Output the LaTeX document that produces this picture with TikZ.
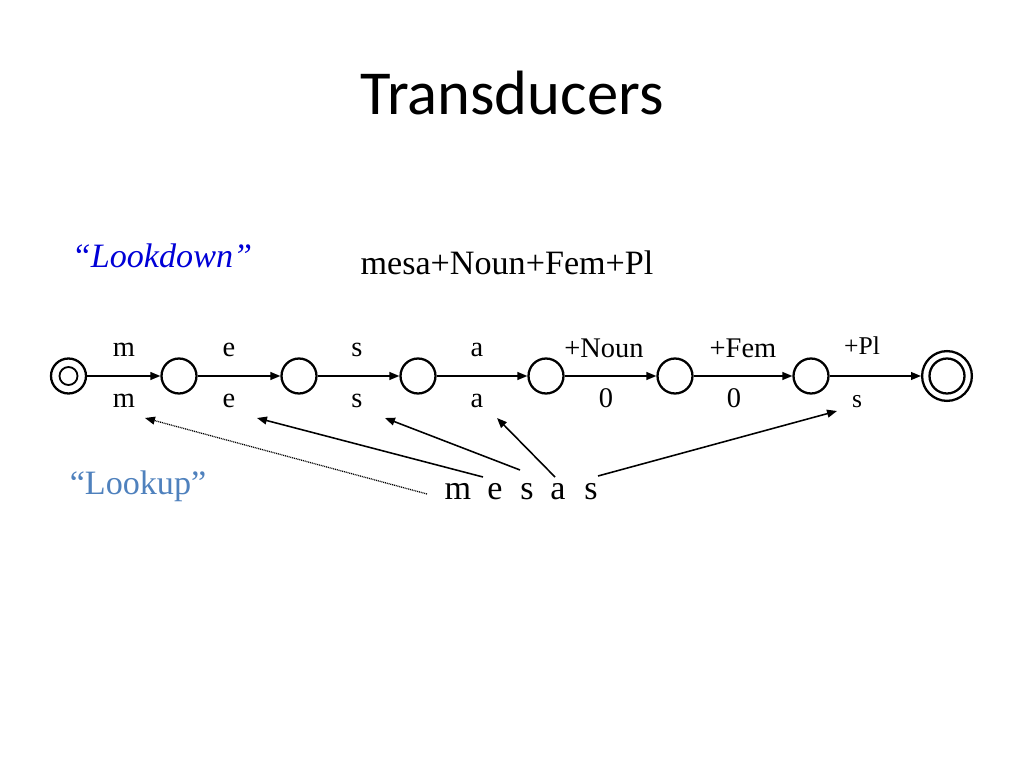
\documentclass[tikz,border=0pt]{standalone}
\usepackage{fontspec}
\setmainfont{Liberation Serif}
\newfontfamily\titlefont{Carlito}
\usetikzlibrary{arrows.meta}
\definecolor{downblue}{RGB}{0,0,215}
\definecolor{upblue}{RGB}{79,129,189}
\begin{document}
\begin{tikzpicture}[x=0.703125pt,y=-0.703125pt,
  state/.style={circle,draw,line width=1.6pt,minimum size=24.6pt,inner sep=0pt},
  bigstate/.style={circle,draw,line width=1.6pt,minimum size=35pt,inner sep=0pt},
  trans/.style={line width=1.1pt,-{Triangle[length=7pt,width=5.5pt]}},
  look/.style={line width=1.1pt,-{Triangle[length=7pt,width=5.5pt]}},
  dots/.style={line width=0.9pt,dash pattern=on 0.7pt off 0.6pt,-{Triangle[length=7pt,width=5.5pt]}},
  lab/.style={font=\fontsize{20}{24}\selectfont,inner sep=0pt,anchor=base},
  smalllab/.style={font=\fontsize{18}{22}\selectfont,inner sep=0pt,anchor=base},
  big/.style={font=\fontsize{24}{28}\selectfont,inner sep=0pt,anchor=base}]
\useasboundingbox (0,0) rectangle (1024,768);
% title
\node[font=\titlefont\fontsize{44}{50}\selectfont,inner sep=0pt,anchor=base] (title) at (512,115) {Transducers};
\node[big,text=downblue,font=\fontsize{24}{28}\selectfont\itshape] (down) at (162,268) {``Lookdown''};
\node[big] (form) at (507,275) {mesa+Noun+Fem+Pl};
\node[big,text=upblue] (up) at (138,494) {``Lookup''};
% states
\node[state] (s0) at (68.5,376) {};
\draw[line width=1.3pt] (s0.center) circle (9);
\node[state] (s1) at (179,376) {};
\node[state] (s2) at (299,376) {};
\node[state] (s3) at (418,376) {};
\node[state] (s4) at (546,376) {};
\node[state] (s5) at (675,376) {};
\node[state] (s6) at (811,376) {};
\node[bigstate] (s7) at (947,376) {};
\draw[line width=1.6pt] (s7.center) circle (17.5);
% transitions
\draw[trans] (s0) -- (s1);
\draw[trans] (s1) -- (s2);
\draw[trans] (s2) -- (s3);
\draw[trans] (s3) -- (s4);
\draw[trans] (s4) -- (s5);
\draw[trans] (s5) -- (s6);
\draw[trans] (s6) -- (s7);
% upper labels
\node[lab] (u1) at (124,356) {m};
\node[lab] (u2) at (229,356) {e};
\node[lab] (u3) at (357,356) {s};
\node[lab] (u4) at (477,356) {a};
\node[lab] (u5) at (604,357) {+Noun};
\node[lab] (u6) at (743,357) {+Fem};
\node[smalllab] (u7) at (862,354) {+Pl};
% lower labels
\node[lab] (l1) at (124,407) {m};
\node[lab] (l2) at (229,407) {e};
\node[lab] (l3) at (357,407) {s};
\node[lab] (l4) at (477,407) {a};
\node[lab] (l5) at (606,407) {0};
\node[lab] (l6) at (734,407) {0};
\node[smalllab] (l7) at (857,407) {s};
% surface word
\node[big] (w1) at (458,499) {m};
\node[big] (w2) at (495,499) {e};
\node[big] (w3) at (527,499) {s};
\node[big] (w4) at (558,499) {a};
\node[big] (w5) at (591,499) {s};
% connector ends
\coordinate (d0) at (427,494);
\coordinate (d1) at (145,418);
\coordinate (e0) at (483,477);
\coordinate (e1) at (257,418);
\coordinate (f0) at (520,470);
\coordinate (f1) at (385,418);
\coordinate (g0) at (555,477);
\coordinate (g1) at (497,418);
\coordinate (h0) at (598,476);
\coordinate (h1) at (837,411);
\draw[dots] (d0) -- (d1);
\draw[look] (e0) -- (e1);
\draw[look] (f0) -- (f1);
\draw[look] (g0) -- (g1);
\draw[look] (h0) -- (h1);
\end{tikzpicture}
\end{document}
